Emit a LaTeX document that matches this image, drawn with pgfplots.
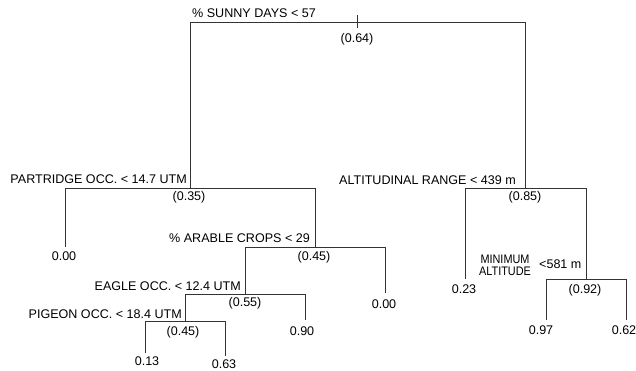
\documentclass[border=0pt]{standalone}
\usepackage{pgfplots}
\pgfplotsset{compat=1.18}
\usepackage{graphicx}
\usepackage{fontspec}
\setmainfont{Liberation Sans}
\begin{document}
\begin{tikzpicture}
\begin{axis}[name=ax, scale only axis, width=636bp, height=371bp,
  xmin=0, xmax=636, ymin=0, ymax=371, y dir=reverse, hide axis, clip=false,
  nodes={font=\fontsize{12.6}{14}\selectfont, inner sep=0pt}]
\tikzset{edge/.style={black!80, line width=0.8pt, mark=none, solid}}
% tree edges (pixel-like coordinates)
\addplot[edge] coordinates {(357,15) (357,28)};
\addplot[edge] coordinates {(190,188) (190,22) (525,22) (525,188)};
\addplot[edge] coordinates {(65,247) (65,188) (315,188) (315,247)};
\addplot[edge] coordinates {(245,294) (245,247) (385,247) (385,293)};
\addplot[edge] coordinates {(185,321) (185,294) (305,294) (305,320)};
\addplot[edge] coordinates {(145,353) (145,321) (225,321) (225,356)};
\addplot[edge] coordinates {(465,279) (465,188) (586,188) (586,279)};
\addplot[edge] coordinates {(546,320) (546,279) (626,279) (626,320)};
% split labels
\node[anchor=base east] at (axis cs:316,18) {\% SUNNY DAYS < 57};
\node[anchor=base] at (axis cs:357,42) {(0.64)};
\node[anchor=base east] at (axis cs:187,183) {PARTRIDGE OCC. < 14.7 UTM};
\node[anchor=base] at (axis cs:189,200) {(0.35)};
\node[anchor=base east] at (axis cs:516,184) {ALTITUDINAL RANGE < 439 m};
\node[anchor=base] at (axis cs:525,200) {(0.85)};
\node[anchor=base east] at (axis cs:310,242) {\% ARABLE CROPS < 29};
\node[anchor=base] at (axis cs:314,260) {(0.45)};
\node[anchor=base east] at (axis cs:241,290) {EAGLE OCC. < 12.4 UTM};
\node[anchor=base] at (axis cs:245,306) {(0.55)};
\node[anchor=base east] at (axis cs:182,318) {PIGEON OCC. < 18.4 UTM};
\node[anchor=base] at (axis cs:183,335) {(0.45)};
\node[anchor=base, align=center, font=\fontsize{12.4}{12}\selectfont] at (axis cs:505,275.7) {\scalebox{0.88}[1]{MINIMUM}\\\scalebox{0.88}[1]{ALTITUDE}};
\node[anchor=base west] at (axis cs:539,268) {<581 m};
\node[anchor=base] at (axis cs:585,293) {(0.92)};
% leaf values
\node[anchor=base] at (axis cs:64,260) {0.00};
\node[anchor=base] at (axis cs:384,308) {0.00};
\node[anchor=base] at (axis cs:302,335) {0.90};
\node[anchor=base] at (axis cs:147,365) {0.13};
\node[anchor=base] at (axis cs:224,368) {0.63};
\node[anchor=base] at (axis cs:464,293) {0.23};
\node[anchor=base] at (axis cs:541,334) {0.97};
\node[anchor=base] at (axis cs:624,334) {0.62};
\end{axis}
\pgfresetboundingbox
\path[use as bounding box] (ax.south west) rectangle (ax.north east);
\end{tikzpicture}
\end{document}
